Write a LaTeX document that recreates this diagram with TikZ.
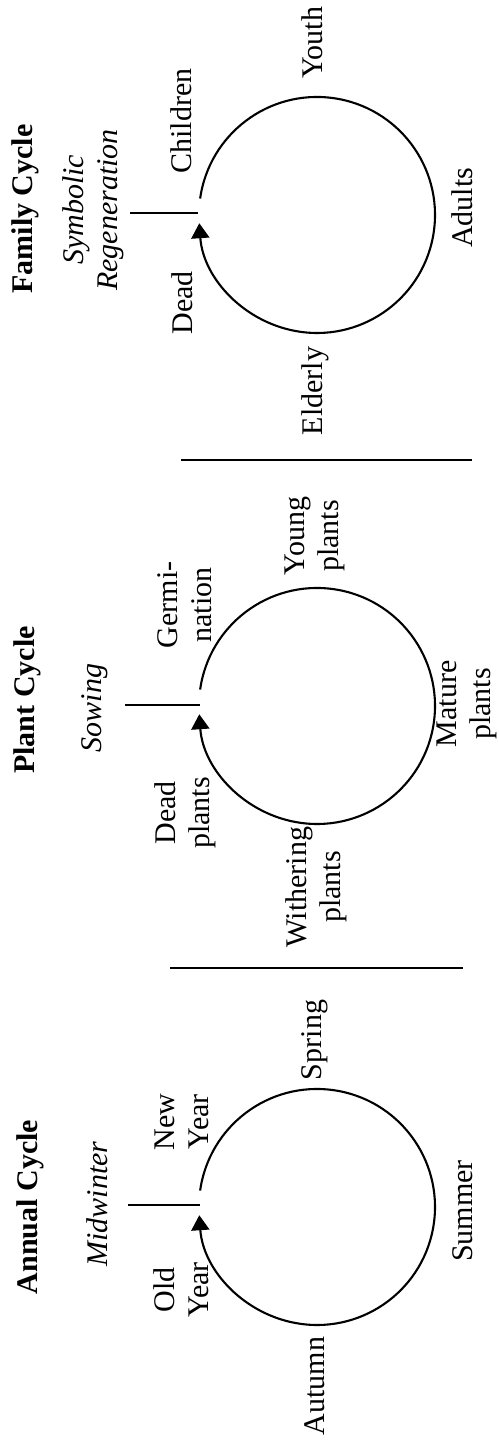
\documentclass[tikz,border=0pt]{standalone}
\usepackage{fontspec}
\setmainfont{Liberation Serif}
\usetikzlibrary{arrows.meta}
\tikzset{
  stage/.style={align=center, inner sep=0pt, font=\fontsize{10}{11.3}\selectfont},
  cyclename/.style={inner sep=0pt, font=\bfseries},
  rite/.style={align=center, inner sep=0pt, font=\itshape\fontsize{10}{11.3}\selectfont},
  cyclearc/.style={line width=0.7pt, -{Triangle[length=5pt,width=6pt]}},
  tickline/.style={line width=0.75pt},
  divider/.style={line width=0.8pt},
}
\begin{document}
\begin{tikzpicture}[x=0.3333pt, y=0.3333pt, rotate=90, transform shape]
\useasboundingbox (0,0) rectangle (1443,499);
% annual cycle
\begin{scope}[shift={(236,182)}]
\draw[cyclearc] (82:118) arc[start angle=82, end angle=-266, radius=118];
\draw[tickline] (2,117) -- (2,189);
\node[cyclename] (annual) at (0,287) {Annual Cycle};
\node[rite] (midwinter) at (3,220) {Midwinter};
\node[stage] (newyear) at (85,135) {New\\Year};
\node[stage] (oldyear) at (-83,136) {Old\\Year};
\node[stage] (spring) at (167,2) {Spring};
\node[stage] (summer) at (-4,-146) {Summer};
\node[stage] (autumn) at (-179,2) {Autumn};
\end{scope}
\draw[divider] (475,329) -- (475,36);
% plant cycle
\begin{scope}[shift={(737,182)}]
\draw[cyclearc] (82:118) arc[start angle=82, end angle=-266, radius=118];
\draw[tickline] (1,117) -- (1,192);
\node[cyclename] (plant) at (6,290) {Plant Cycle};
\node[rite] (sowing) at (-2,222) {Sowing};
\node[stage] (germination) at (101,132) {Germi-\\nation};
\node[stage] (deadplants) at (-107,132) {Dead\\plants};
\node[stage] (youngplants) at (170,2) {Young\\plants};
\node[stage] (matureplants) at (2,-150) {Mature\\plants};
\node[stage] (witheringplants) at (-181,1) {Withering\\plants};
\end{scope}
\draw[divider] (983,318) -- (983,27);
% family cycle
\begin{scope}[shift={(1228,182)}]
\draw[cyclearc] (82:118) arc[start angle=82, end angle=-266, radius=118];
\draw[tickline] (2,119) -- (2,187);
\node[cyclename] (family) at (6,292) {Family Cycle};
\node[rite] (regeneration) at (5,224) {Symbolic\\Regeneration};
\node[stage] (children) at (94,136) {Children};
\node[stage] (dead) at (-88,135) {Dead};
\node[stage] (youth) at (172,5) {Youth};
\node[stage] (adults) at (7,-145) {Adults};
\node[stage] (elderly) at (-176,2) {Elderly};
\end{scope}
\end{tikzpicture}
\end{document}
